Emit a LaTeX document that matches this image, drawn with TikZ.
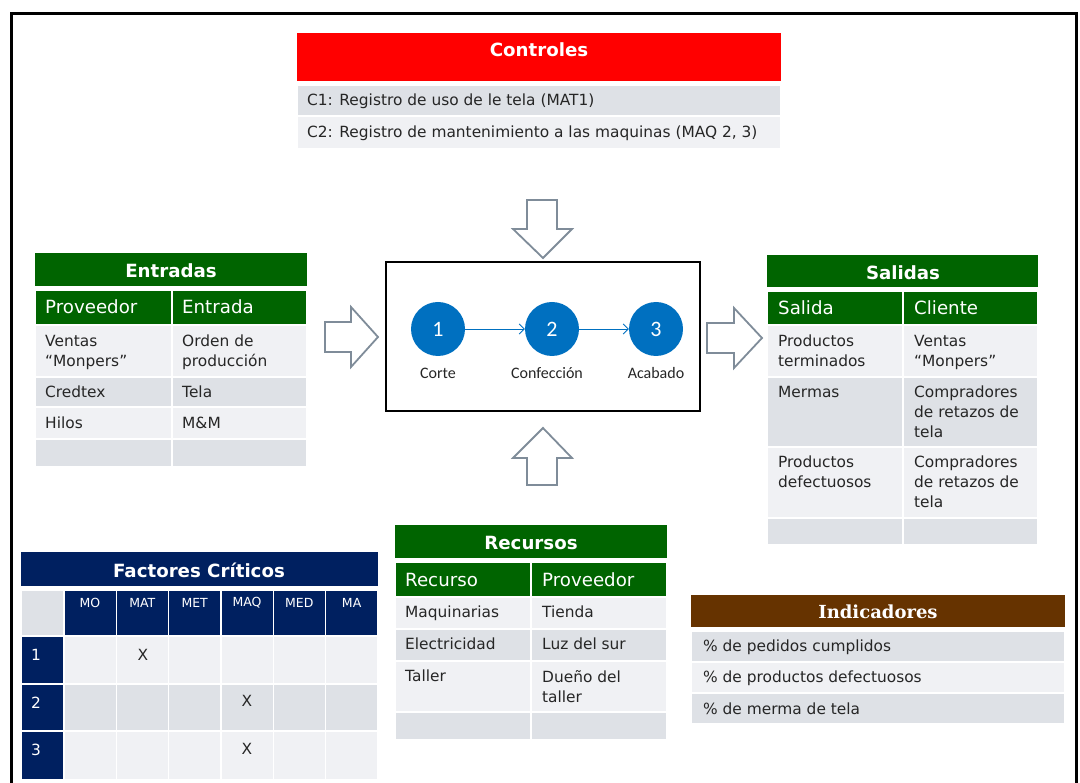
\documentclass[tikz,border=0pt]{standalone}
\usepackage{fontspec}
\setmainfont{DejaVu Sans}
\newfontfamily\carlito{Carlito}
\newfontfamily\titserif{DejaVu Serif}
\usetikzlibrary{arrows.meta}
\definecolor{rojo}{HTML}{FF0000}
\definecolor{verde}{HTML}{006400}
\definecolor{marino}{HTML}{002060}
\definecolor{cafe}{HTML}{663300}
\definecolor{gris1}{HTML}{F0F1F4}
\definecolor{gris2}{HTML}{DEE1E6}
\definecolor{grisf}{HTML}{7F8C99}
\definecolor{azul}{HTML}{0070C0}
\definecolor{tinta}{HTML}{262626}

\begin{document}
\begin{tikzpicture}[x=1pt,y=-1pt, % ------ Diagrama SIPOC -----------------
    titulo/.style={text=white,font=\bfseries\fontsize{18.2}{20}\selectfont,inner sep=0},
    encab/.style={text=white,font=\fontsize{18.2}{20}\selectfont,anchor=west,inner sep=0},
    texto/.style={text=tinta,font=\fontsize{15.4}{20}\selectfont,anchor=north west,align=left,inner sep=0},
    linea/.style={text=tinta,font=\fontsize{15.4}{20}\selectfont,anchor=west,inner sep=0},
    claro/.style={fill=gris1,draw=white,line width=1.5pt},
    oscuro/.style={fill=gris2,draw=white,line width=1.5pt},
    verdec/.style={fill=verde,draw=white,line width=1.5pt},
    marinoc/.style={fill=marino,draw=white,line width=1.5pt},
    bloque/.style={draw=grisf,line width=1.8pt,fill=white},
    paso/.style={circle,fill=azul,minimum size=54pt,inner sep=0,text=white,font=\carlito\fontsize{22}{22}\selectfont},
    etiq/.style={text=tinta,font=\carlito\fontsize{16}{18}\selectfont},
    flujo/.style={draw=azul,line width=0.9pt,-{Straight Barb[length=5pt,width=10pt]}}]
    \useasboundingbox (0,0) rectangle (1080,783);
    \draw [line width=3pt] (11,783)--(11,14)--(1076,14)--(1076,783);

    % Controles
    \fill [rojo] (297,33) rectangle (781,81);
    \node [titulo] (contT) at (539,50) {Controles};
    \draw [oscuro] (297,85) rectangle (781,116);
    \draw [claro] (297,116) rectangle (781,149);
    \node [linea] (c1) at (307,101) {C1: Registro de uso de le tela (MAT1)};
    \node [linea] (c2) at (307,133) {C2: Registro de mantenimiento a las maquinas (MAQ 2, 3)};

    % Flechas de bloque
    \draw [bloque] (527,200)--(557,200)--(557,229)--(572,229)--(543,258)--(513,229)--(527,229)--cycle;
    \draw [bloque] (543,428)--(572,458)--(557,458)--(557,485)--(527,485)--(527,458)--(513,458)--cycle;
    \draw [bloque] (325,322)--(351,322)--(351,307)--(378,337)--(351,367)--(351,352)--(325,352)--cycle;
    \draw [bloque] (707,323)--(734,323)--(734,308)--(762,338)--(734,368)--(734,353)--(707,353)--cycle;

    % Proceso
    \draw [line width=2pt] (386,262) rectangle (700,411);
    \node [paso] (p1) at (438,329) {1};
    \node [paso] (p2) at (552,329) {2};
    \node [paso] (p3) at (656,329) {3};
    \node [etiq] (l1) at (438,373) {Corte};
    \node [etiq] (l2) at (547,373) {Confección};
    \node [etiq] (l3) at (656,373) {Acabado};
    \draw [flujo] (p1) -- (p2);
    \draw [flujo] (p2) -- (p3);

    % Entradas
    \fill [verde] (35,253) rectangle (307,286);
    \node [titulo] (entT) at (171,271) {Entradas};
    \draw [verdec] (35,290) rectangle (172,325) (172,290) rectangle (307,325);
    \node [encab] (entA) at (45,307) {Proveedor};
    \node [encab] (entB) at (182,307) {Entrada};
    \foreach \ya/\yb/\c in {325/377/claro,377/407/oscuro,407/439/claro,439/467/oscuro}
      \draw [\c] (35,\ya) rectangle (172,\yb) (172,\ya) rectangle (307,\yb);
    \node [texto] (e1a) at (45,335) {Ventas\\“Monpers”};
    \node [texto] (e1b) at (182,335) {Orden de\\producción};
    \node [texto] (e2a) at (45,386) {Credtex};
    \node [texto] (e2b) at (182,386) {Tela};
    \node [texto] (e3a) at (45,417) {Hilos};
    \node [texto] (e3b) at (182,417) {M\&M};

    % Salidas
    \fill [verde] (767,255) rectangle (1038,287);
    \node [titulo] (salT) at (903,273) {Salidas};
    \draw [verdec] (767,291) rectangle (903,325) (903,291) rectangle (1038,325);
    \node [encab] (salA) at (778,308) {Salida};
    \node [encab] (salB) at (914,308) {Cliente};
    \foreach \ya/\yb/\c in {325/377/claro,377/447/oscuro,447/518/claro,518/545/oscuro}
      \draw [\c] (767,\ya) rectangle (903,\yb) (903,\ya) rectangle (1038,\yb);
    \node [texto] (s1a) at (778,335) {Productos\\terminados};
    \node [texto] (s1b) at (914,335) {Ventas\\“Monpers”};
    \node [texto] (s2a) at (778,386) {Mermas};
    \node [texto] (s2b) at (914,386) {Compradores\\de retazos de\\tela};
    \node [texto] (s3a) at (778,456) {Productos\\defectuosos};
    \node [texto] (s3b) at (914,456) {Compradores\\de retazos de\\tela};

    % Recursos
    \fill [verde] (395,525) rectangle (667,558);
    \node [titulo] (recT) at (531,543) {Recursos};
    \draw [verdec] (395,562) rectangle (531,597) (531,562) rectangle (667,597);
    \node [encab] (recA) at (405,580) {Recurso};
    \node [encab] (recB) at (542,580) {Proveedor};
    \foreach \ya/\yb/\c in {597/629/claro,629/661/oscuro,661/712/claro,712/740/oscuro}
      \draw [\c] (395,\ya) rectangle (531,\yb) (531,\ya) rectangle (667,\yb);
    \node [texto] (r1a) at (405,606) {Maquinarias};
    \node [texto] (r1b) at (542,606) {Tienda};
    \node [texto] (r2a) at (405,638) {Electricidad};
    \node [texto] (r2b) at (542,638) {Luz del sur};
    \node [texto] (r3a) at (405,670) {Taller};
    \node [texto] (r3b) at (542,670) {Dueño del\\taller};

    % Indicadores
    \fill [cafe] (691,595) rectangle (1065,627);
    \node [titulo,font=\titserif\bfseries\fontsize{18}{20}\selectfont] (indT) at (878,612) {Indicadores};
    \draw [oscuro] (691,631) rectangle (1065,662);
    \draw [claro] (691,662) rectangle (1065,693);
    \draw [oscuro] (691,693) rectangle (1065,724);
    \node [linea] (i1) at (703,647) {\% de pedidos cumplidos};
    \node [linea] (i2) at (703,678) {\% de productos defectuosos};
    \node [linea] (i3) at (703,709) {\% de merma de tela};

    % Factores criticos
    \fill [marino] (21,552) rectangle (378,586);
    \node [titulo] (facT) at (199,570) {Factores Críticos};
    \draw [oscuro] (21,590) rectangle (64,636);
    \foreach \nom [count=\i] in {MO,MAT,MET,MAQ,MED,MA} {
      \draw [marinoc] ({64+(\i-1)*52.33},590) rectangle ({64+\i*52.33},636);
      \node [text=white,font=\fontsize{12.5}{14}\selectfont,inner sep=0] (col\i) at ({90+(\i-1)*52.33},603) {\nom};
    }
    \foreach \ya/\yb/\c [count=\j] in {636/684/claro,684/731/oscuro,731/780/claro} {
      \draw [marinoc] (21,\ya) rectangle (64,\yb);
      \node [encab,font=\fontsize{15.4}{16}\selectfont] (fila\j) at (31,\ya+19) {\j};
      \foreach \i in {1,...,6}
        \draw [\c] ({64+(\i-1)*52.33},\ya) rectangle ({64+\i*52.33},\yb);
    }
    \node [text=tinta,font=\fontsize{15.4}{16}\selectfont] (x1) at (143,655) {X};
    \node [text=tinta,font=\fontsize{15.4}{16}\selectfont] (x2) at (247,701) {X};
    \node [text=tinta,font=\fontsize{15.4}{16}\selectfont] (x3) at (247,749) {X};
\end{tikzpicture}
\end{document}
